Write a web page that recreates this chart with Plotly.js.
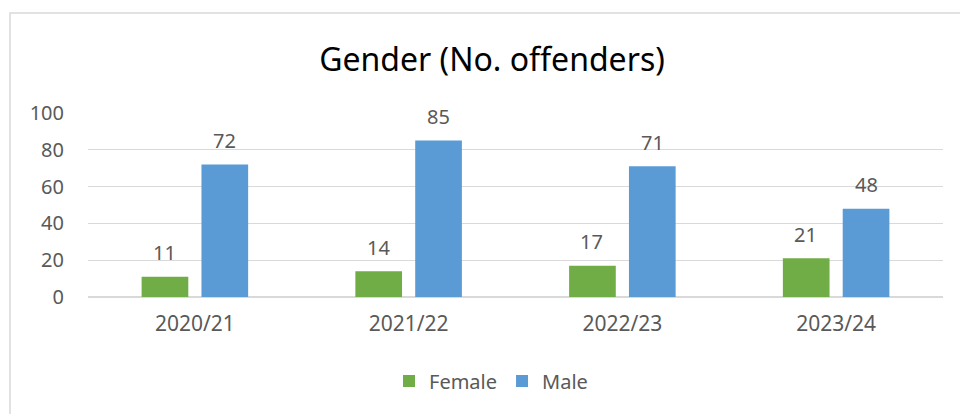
<!DOCTYPE html>
<html><head><meta charset="utf-8">
<script src="https://cdn.plot.ly/plotly-3.0.1.min.js"></script>
<style>html,body{margin:0;padding:0;background:#fff}#c{width:960px;height:414px}</style>
</head><body><div id="c"></div>
<script>
var categories = ['2020/21','2021/22','2022/23','2023/24'];
var female = [11, 14, 17, 21];
var male = [72, 85, 71, 48];
var seriesNames = ['Female','Male'];
var yTicks = [0,20,40,60,80,100];

var FONT = '"Noto Sans", "Open Sans", sans-serif';
var TXT = '#595959';

var traces = [
  {type:'bar', name:seriesNames[0], x:categories, y:female, marker:{color:'#70AD47'}, hoverinfo:'none'},
  {type:'bar', name:seriesNames[1], x:categories, y:male, marker:{color:'#5B9BD5'}, hoverinfo:'none'}
];

var annotations = [];
[female, male].forEach(function(vals, s){
  vals.forEach(function(v, i){
    annotations.push({x:categories[i], y:v, xref:'x', yref:'y', text:String(v), showarrow:false,
      xshift: s===0 ? -30.5 : 30, yshift: 24, yanchor:'middle',
      font:{family:FONT, size:20, color:TXT}});
  });
});

var layout = {
  width:960, height:414,
  margin:{l:88, r:17, t:113, b:117},
  paper_bgcolor:'#fff', plot_bgcolor:'#fff',
  font:{family:FONT, color:TXT},
  title:{text:'Gender (No. offenders)', font:{family:FONT, size:32, color:'#000'},
         xref:'container', x:492/960, xanchor:'center', yref:'container', y:1-60/414, yanchor:'middle'},
  barmode:'group', bargap:0.44, bargroupgap:0.22,
  xaxis:{type:'category', showgrid:false, zeroline:false, showline:false, ticks:'',
         tickfont:{family:FONT, size:21, color:TXT}, ticklabelstandoff:12, fixedrange:true},
  yaxis:{range:[0,100], tickvals:yTicks, showgrid:true, gridcolor:'#D9D9D9', gridwidth:1.3,
         zeroline:true, zerolinecolor:'#D9D9D9', zerolinewidth:1.3, showline:false, ticks:'',
         tickfont:{family:FONT, size:20, color:TXT}, ticklabelstandoff:23, fixedrange:true},
  showlegend:true,
  legend:{orientation:'h', x:(491-88)/855, xanchor:'center', y:(297-381)/184, yanchor:'middle',
          font:{family:FONT, size:20, color:TXT}, itemclick:false},
  annotations:annotations,
  shapes:[{type:'rect', xref:'paper', yref:'paper', x0:(10-88)/855, x1:(975-88)/855,
           y0:(297-430)/184, y1:(297-13)/184, line:{color:'#D9D9D9', width:1.5}, fillcolor:'rgba(0,0,0,0)', layer:'below'}]
};

Plotly.newPlot('c', traces, layout, {displayModeBar:false, staticPlot:true});
</script></body></html>
